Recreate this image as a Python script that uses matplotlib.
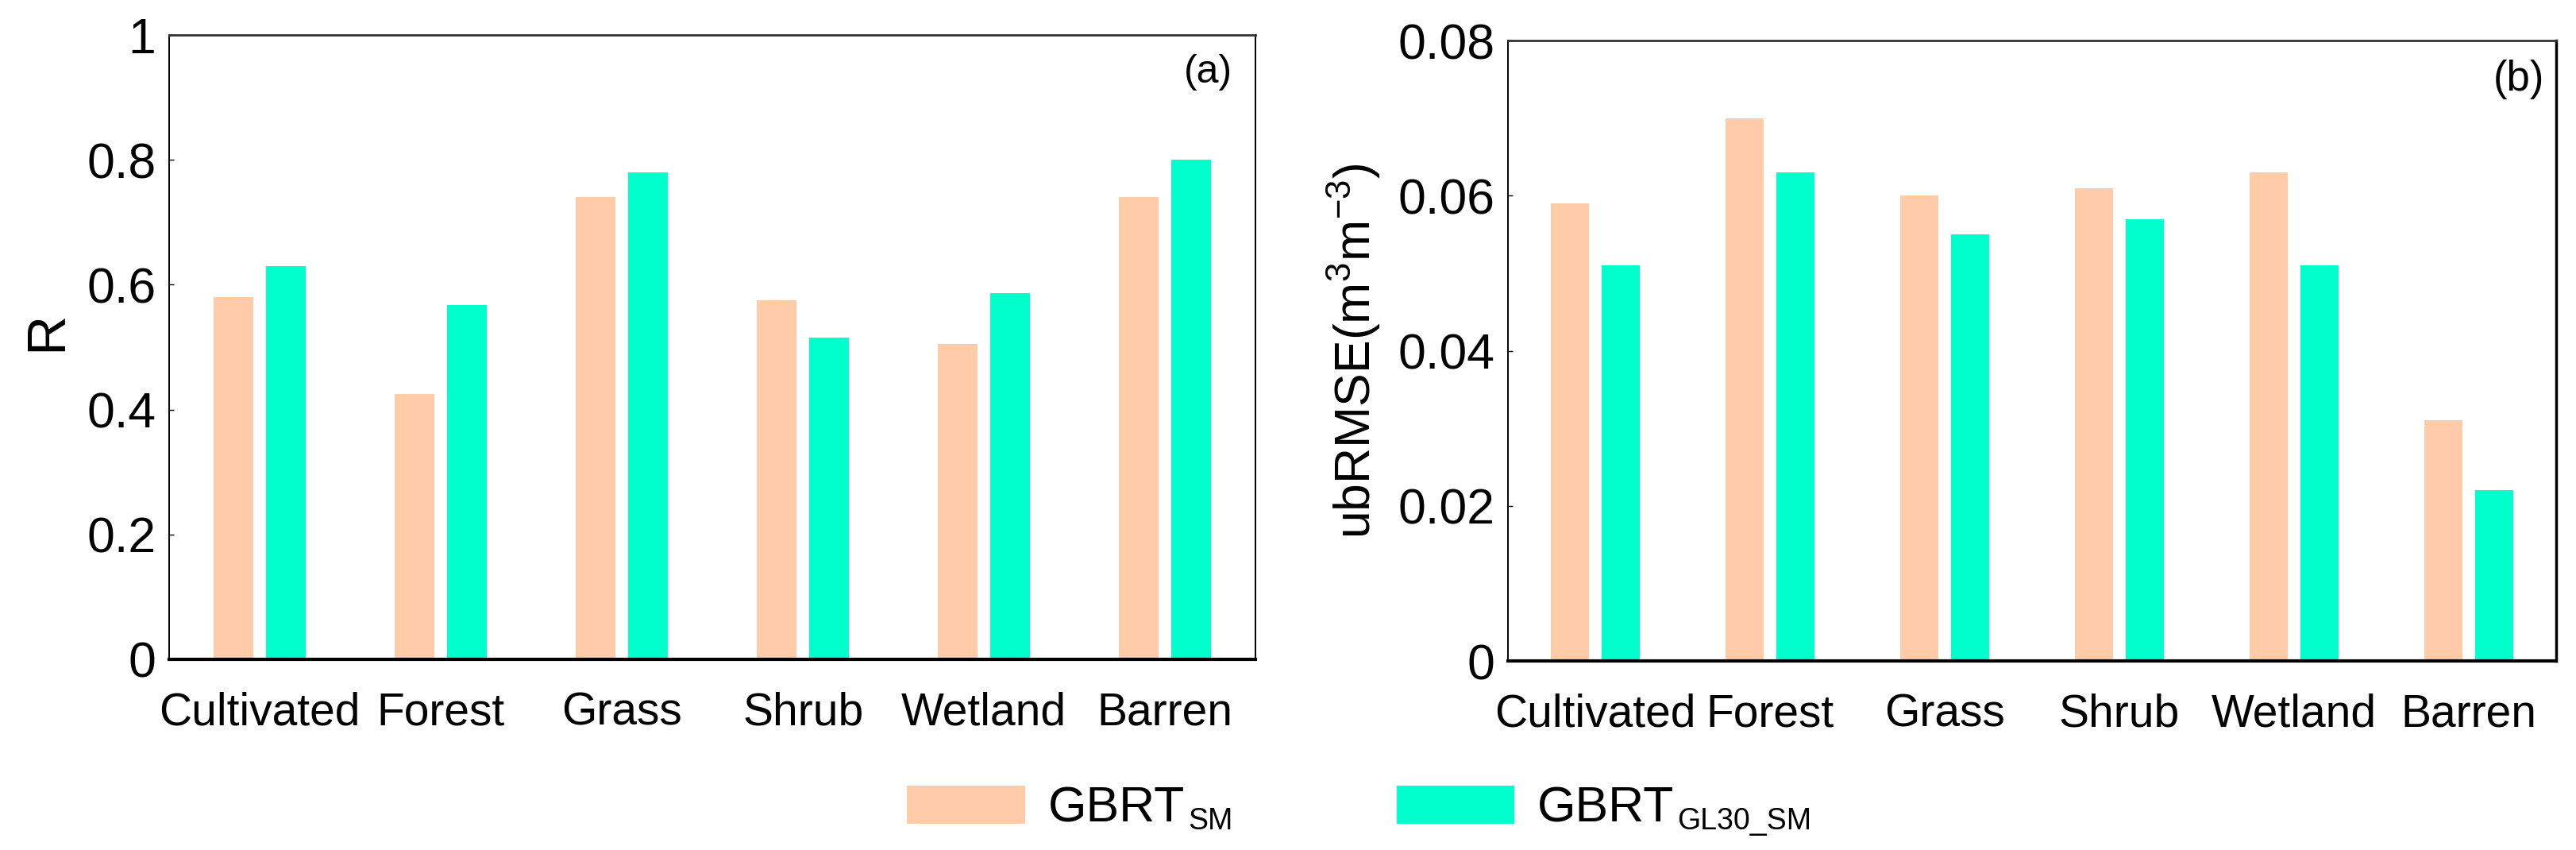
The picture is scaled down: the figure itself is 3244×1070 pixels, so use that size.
import matplotlib
matplotlib.use('Agg')
import matplotlib.pyplot as plt
from matplotlib.patches import Patch
from matplotlib.ticker import FuncFormatter
import numpy as np

plt.rcParams['font.family'] = ['Liberation Sans', 'DejaVu Sans']
plt.rcParams['mathtext.fontset'] = 'custom'
plt.rcParams['mathtext.rm'] = 'Liberation Sans'
plt.rcParams['mathtext.it'] = 'Liberation Sans:italic'

# data
categories = ['Cultivated', 'Forest', 'Grass', 'Shrub', 'Wetland', 'Barren']
r_sm = [0.58, 0.425, 0.74, 0.575, 0.505, 0.74]
r_gl30 = [0.63, 0.567, 0.78, 0.515, 0.587, 0.80]
ubrmse_sm = [0.059, 0.070, 0.060, 0.061, 0.063, 0.031]
ubrmse_gl30 = [0.051, 0.063, 0.055, 0.057, 0.051, 0.022]
r_ticks = [0, 0.2, 0.4, 0.6, 0.8, 1]
ub_ticks = [0, 0.02, 0.04, 0.06, 0.08]

c_sm = '#FFCBA9'
c_gl = '#00FFCC'

fig = plt.figure(figsize=(32.44, 10.7), dpi=100)
ax1 = fig.add_axes([0.0657, 0.2243, 0.4217, 0.7346])
ax2 = fig.add_axes([0.5854, 0.2224, 0.4069, 0.7299])

x = np.arange(len(categories))
w = 0.22
off = 0.145

fmt = FuncFormatter(lambda v, p: f'{v:g}')

for ax, s1, s2, yt in [(ax1, r_sm, r_gl30, r_ticks),
                       (ax2, ubrmse_sm, ubrmse_gl30, ub_ticks)]:
    ax.bar(x - off, s1, width=w, color=c_sm, zorder=2)
    ax.bar(x + off, s2, width=w, color=c_gl, zorder=2)
    ax.set_xlim(-0.5, len(categories) - 0.5)
    ax.set_ylim(yt[0], yt[-1])
    ax.set_yticks(yt)
    ax.yaxis.set_major_formatter(fmt)
    ax.set_xticks(x)
    ax.set_xticklabels(categories, fontsize=41)
    ax.tick_params(axis='x', length=0, pad=29)
    ax.tick_params(axis='y', labelsize=45, direction='in', length=4, width=1, pad=12)
    for side in ['left', 'right']:
        ax.spines[side].set_linewidth(1.4)
    ax.spines['top'].set_linewidth(2.0)
    ax.spines['top'].set_color('#333333')
    ax.spines['bottom'].set_linewidth(3.0)
    ax.spines['bottom'].set_zorder(3)

ax2.spines['right'].set_linewidth(2.5)

ax1.text(0.979, 0.969, '(a)', transform=ax1.transAxes, ha='right', va='top', fontsize=36)
ax2.text(0.989, 0.969, '(b)', transform=ax2.transAxes, ha='right', va='top', fontsize=38)

ax1.set_ylabel('R', fontsize=50)
ax1.yaxis.set_label_coords(-0.089, 0.525)
ax2.set_ylabel(r'ubRMSE(m$^{3}$m$^{-3}$)', fontsize=45)
ax2.yaxis.set_label_coords(-0.120, 0.5)

# legend with subscripted labels
handles = [Patch(facecolor=c_sm, edgecolor='none'), Patch(facecolor=c_gl, edgecolor='none')]
leg = fig.legend(handles, ['GBRT', 'GBRT'], loc='center left',
                 bbox_to_anchor=(1142 / 3244, 1 - 1018 / 1070), ncol=2,
                 frameon=False, fontsize=45, handlelength=2.38, handleheight=0.82,
                 handletextpad=0.46, columnspacing=4.27, borderpad=0, borderaxespad=0)
fig.canvas.draw()
for t, sub in zip(leg.get_texts(), ['SM', 'GL30_SM']):
    ax1.annotate(sub, xy=(1, 0), xycoords=t, xytext=(3, -3.6), textcoords='offset points',
                 fontsize=27, ha='left', va='bottom')

plt.savefig('out.png', dpi=100)
